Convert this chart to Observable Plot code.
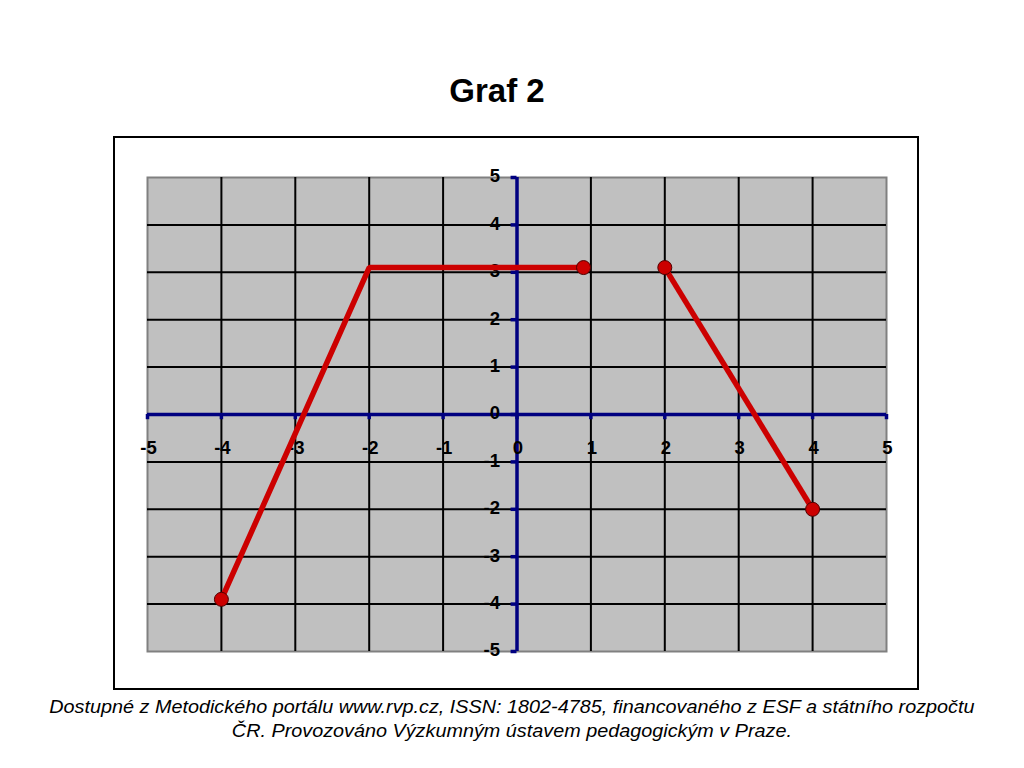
<!DOCTYPE html>
<html>
<head>
<meta charset="utf-8">
<script src="https://cdn.jsdelivr.net/npm/d3@7"></script>
<script src="https://cdn.jsdelivr.net/npm/@observablehq/plot@0.6"></script>
<style>
  html, body { margin: 0; padding: 0; background: #fff; width: 1024px; height: 768px; overflow: hidden; }
  body { position: relative; font-family: "Liberation Sans", Arial, sans-serif; }
  #title { position: absolute; left: 0; width: 994px; top: 72px; text-align: center; font-weight: bold; font-size: 33px; color: #000; }
  #box { position: absolute; left: 113px; top: 136px; width: 802px; height: 550px; border: 2px solid #000; background: #fff; }
  #box svg { display: block; }
  #caption { position: absolute; left: 0; width: 1024px; top: 695px; text-align: center; font-style: italic; font-size: 18px; line-height: 24px; color: #000; transform: scaleX(1.1); transform-origin: 513px 0; }
</style>
</head>
<body>
<div id="title">Graf 2</div>
<div id="box"></div>
<div id="caption">Dostupné z Metodického portálu www.rvp.cz, ISSN: 1802-4785, financovaného z ESF a státního rozpočtu<br>ČR. Provozováno Výzkumným ústavem pedagogickým v Praze.</div>
<script>
// Tick values
const xTicks = [-5, -4, -3, -2, -1, 0, 1, 2, 3, 4, 5];
const yTicks = [-5, -4, -3, -2, -1, 0, 1, 2, 3, 4, 5];
const gridX = [-4, -3, -2, -1, 1, 2, 3, 4];
const gridY = [-4, -3, -2, -1, 1, 2, 3, 4];

// Segment A of the graph
const segAx = [-4, -2, 0.9];
const segAy = [-3.9, 3.1, 3.1];
// Segment B of the graph
const segBx = [2, 4];
const segBy = [3.1, -2];
// Endpoint markers
const dotX = [-4, 0.9, 2, 4];
const dotY = [-3.9, 3.1, 3.1, -2];

const lineData = [
  ...segAx.map((x, i) => ({x, y: segAy[i], s: "A"})),
  ...segBx.map((x, i) => ({x, y: segBy[i], s: "B"}))
];
const dots = dotX.map((x, i) => ({x, y: dotY[i]}));

const navy = "#000080";
const red = "#cc0000";

const chart = Plot.plot({
  width: 802,
  height: 550,
  marginLeft: 32,
  marginRight: 31,
  marginTop: 39,
  marginBottom: 37,
  x: {domain: [-5, 5], axis: null},
  y: {domain: [-5, 5], axis: null},
  style: {fontFamily: "'Liberation Sans', Arial, sans-serif", background: "#fff"},
  marks: [
    Plot.frame({fill: "#c0c0c0", stroke: "#808080", strokeWidth: 2}),
    Plot.ruleX(gridX, {stroke: "#000", strokeWidth: 2}),
    Plot.ruleY(gridY, {stroke: "#000", strokeWidth: 2}),
    // axes
    Plot.ruleY([0], {stroke: navy, strokeWidth: 3.5}),
    Plot.ruleX([0], {stroke: navy, strokeWidth: 3.5}),
    // tick stubs
    Plot.ruleY(yTicks, {y: d => d, x1: -0.08, x2: 0, stroke: navy, strokeWidth: 3.5}),
    Plot.ruleX(xTicks, {x: d => d, y1: 0, y2: -0.11, stroke: navy, strokeWidth: 3.5}),
    // tick labels
    Plot.text(yTicks, {x: 0, y: d => d, text: d => String(d), dx: -17, dy: -1, textAnchor: "end", fontSize: 18.5, fontWeight: "bold", fill: "#000"}),
    Plot.text(xTicks, {x: d => d, y: 0, text: d => String(d), dx: 1, dy: 34, textAnchor: "middle", fontSize: 18.5, fontWeight: "bold", fill: "#000"}),
    // graph
    Plot.line(lineData, {x: "x", y: "y", z: "s", stroke: red, strokeWidth: 5.5, strokeLinejoin: "miter", strokeLinecap: "butt"}),
    Plot.dot(dots, {x: "x", y: "y", r: 7, fill: red, stroke: "#500000", strokeWidth: 1})
  ]
});
document.getElementById("box").appendChild(chart);
</script>
</body>
</html>
